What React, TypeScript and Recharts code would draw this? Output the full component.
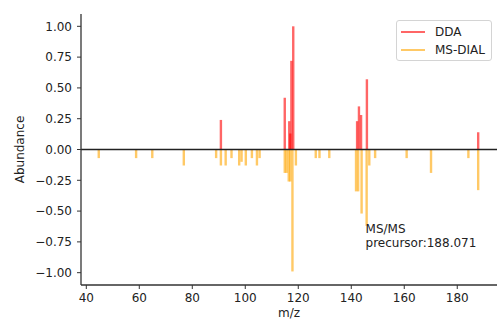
import React from "react";
import {
  Bar,
  BarChart,
  Legend,
  ReferenceDot,
  ReferenceLine,
  XAxis,
  YAxis,
} from "recharts";

// DDA spectrum (upper half)
const ddaMz = [90.8, 114.9, 116.6, 117.0, 117.4, 118.1, 142.2, 142.9, 143.7, 145.9, 187.9];
const ddaAbundance = [0.24, 0.42, 0.23, 0.13, 0.72, 1.0, 0.23, 0.35, 0.28, 0.57, 0.14];

// MS-DIAL spectrum (mirrored, lower half)
const msdialMz = [
  44.7, 58.8, 64.9, 76.8, 89.0, 90.8, 92.6, 94.8, 97.7, 98.6, 100.2, 102.5,
  104.4, 105.4, 114.9, 115.6, 116.4, 117.0, 117.8, 119.1, 126.6, 128.0, 131.7,
  141.8, 142.6, 143.9, 145.8, 146.8, 149.0, 160.9, 170.1, 184.2, 187.9,
];
const msdialAbundance = [
  -0.07, -0.07, -0.07, -0.13, -0.07, -0.13, -0.13, -0.07, -0.13, -0.1, -0.13, -0.07,
  -0.13, -0.07, -0.19, -0.19, -0.26, -0.26, -0.99, -0.13, -0.07, -0.07, -0.07,
  -0.34, -0.34, -0.52, -0.62, -0.13, -0.07, -0.07, -0.19, -0.07, -0.33,
];

const xTicks = [40, 60, 80, 100, 120, 140, 160, 180];
const yTicks = [-1, -0.75, -0.5, -0.25, 0, 0.25, 0.5, 0.75, 1];

const precursorMz = 188.071;

const rows = [
  ...ddaMz.map((mz, i) => ({ mz, dda: ddaAbundance[i] })),
  ...msdialMz.map((mz, i) => ({ mz, msdial: msdialAbundance[i] })),
].sort((a, b) => a.mz - b.mz);

const FONT = "'DejaVu Sans', sans-serif";
const INK = "#222";
const STICK_W = 2.4;

function Stick(props: any) {
  const { x, y, width, height, color } = props;
  if (!height || Math.abs(height) < 0.01) return null;
  const cx = x + (width || 0) / 2;
  const top = Math.min(y, y + height);
  return (
    <rect
      x={cx - STICK_W / 2}
      y={top}
      width={STICK_W}
      height={Math.abs(height)}
      fill={color}
      fillOpacity={0.6}
    />
  );
}

function LegendBox({ payload }: any) {
  return (
    <div
      style={{
        border: "1px solid #d4d4d4",
        borderRadius: 3,
        background: "#fff",
        padding: "2px 5px 1px 4px",
        width: 96,
        boxSizing: "border-box",
        fontFamily: FONT,
      }}
    >
      {(payload || []).map((entry: any) => (
        <div
          key={entry.value}
          style={{
            display: "flex",
            alignItems: "center",
            height: 18,
            fontSize: 12,
            color: INK,
          }}
        >
          <span
            style={{
              display: "inline-block",
              width: 24,
              height: 2,
              background: entry.color,
              opacity: 0.6,
              marginRight: 10,
            }}
          />
          {entry.value}
        </div>
      ))}
    </div>
  );
}

const fmtY = (v: number) => v.toFixed(2).replace("-", "\u2212");

export default function App() {
  return (
    <div style={{ position: "absolute", left: 0, top: 0, fontFamily: FONT }}>
      <BarChart
        width={497}
        height={320}
        data={rows}
        stackOffset="sign"
        margin={{ top: 14, right: 0, bottom: 0, left: 0 }}
      >
        <XAxis
          type="number"
          dataKey="mz"
          domain={[38, 195]}
          ticks={xTicks}
          allowDataOverflow
          height={35}
          tickSize={4}
          tickMargin={4}
          tick={{ fontSize: 12, fill: INK, fontFamily: FONT }}
          axisLine={{ stroke: "#333", strokeWidth: 1.3 }}
          tickLine={{ stroke: "#333" }}
          label={{
            value: "m/z",
            position: "insideBottom",
            offset: 3,
            fontSize: 12,
            fill: INK,
            fontFamily: FONT,
          }}
        />
        <XAxis
          xAxisId="top"
          orientation="top"
          type="number"
          dataKey="mz"
          domain={[38, 195]}
          allowDataOverflow
          height={0}
          tick={false}
          tickLine={false}
          axisLine={{ stroke: "#333", strokeWidth: 1.3 }}
        />
        <YAxis
          type="number"
          domain={[-1.1, 1.1]}
          ticks={yTicks}
          allowDataOverflow
          width={81}
          tickSize={4}
          tickMargin={5}
          tickFormatter={fmtY}
          tick={{ fontSize: 12, fill: INK, fontFamily: FONT }}
          axisLine={{ stroke: "#333", strokeWidth: 1.3 }}
          tickLine={{ stroke: "#333" }}
          label={{
            value: "Abundance",
            angle: -90,
            position: "insideLeft",
            offset: 20,
            textAnchor: "middle",
            fontSize: 12,
            fill: INK,
            fontFamily: FONT,
          }}
        />
        <Bar
          dataKey="dda"
          name="DDA"
          stackId="s"
          fill="#ff0000"
          isAnimationActive={false}
          shape={(p: any) => <Stick {...p} color="#ff0000" />}
        />
        <Bar
          dataKey="msdial"
          name="MS-DIAL"
          stackId="s"
          fill="#ffa500"
          isAnimationActive={false}
          shape={(p: any) => <Stick {...p} color="#ffa500" />}
        />
        <ReferenceLine y={0} stroke="#222" strokeWidth={1.5} />
        <ReferenceDot
          x={145.4}
          y={-0.68}
          r={0}
          shape={(p: any) => (
            <text x={p.cx} y={p.cy} fontSize={12} fill={INK} fontFamily={FONT}>
              <tspan x={p.cx}>MS/MS</tspan>
              <tspan x={p.cx} dy={14}>{`precursor:${precursorMz.toFixed(3)}`}</tspan>
            </text>
          )}
        />
        <Legend
          layout="vertical"
          align="center"
          verticalAlign="middle"
          content={<LegendBox />}
          wrapperStyle={{ top: 20, left: 396, width: 96, height: "auto" }}
        />
      </BarChart>
    </div>
  );
}
